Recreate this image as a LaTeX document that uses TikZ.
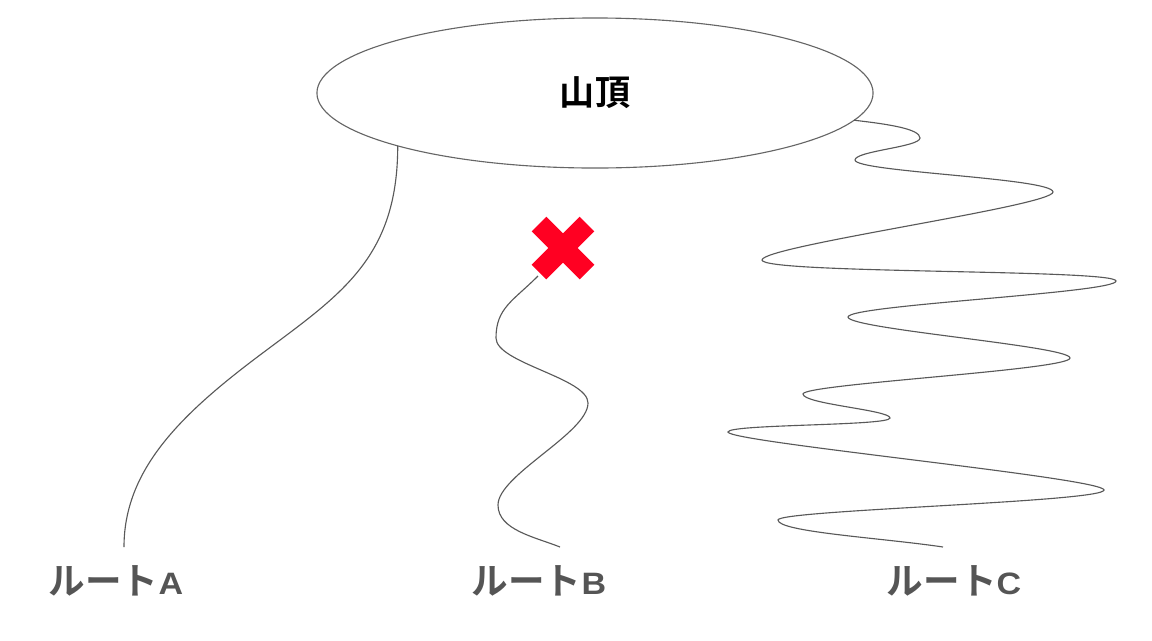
\documentclass[tikz,border=0pt]{standalone}
\usepackage{fontspec}
\newfontfamily\jpfont{Noto Sans CJK JP}[BoldFont={Noto Sans CJK JP Bold}]
\newfontfamily\latinfont{Liberation Sans}[FakeStretch=1.1]
\usetikzlibrary{shapes.geometric}
\definecolor{banred}{RGB}{255,0,34}
\definecolor{labelgray}{RGB}{85,85,85}
\newcommand{\routename}[1]{ルート{\latinfont\fontsize{22pt}{22pt}\selectfont #1}}
\tikzset{
	route/.style = {draw=black!65, line width=0.8pt},
}

\begin{document}
\begin{tikzpicture}[x=0.025cm, y=-0.025cm,
	summitbox/.style = {ellipse, draw=black!60, line width=0.8pt, minimum width=13.9cm, minimum height=3.75cm, inner sep=0, outer sep=0, font=\jpfont\bfseries\fontsize{25pt}{25pt}\selectfont},
	routelabel/.style = {text=labelgray, inner sep=0, font=\jpfont\bfseries\fontsize{26pt}{26pt}\selectfont},
	banmark/.style = {draw=banred, line width=0.52cm}]
\useasboundingbox (0,0) rectangle (1152,640);
\node[summitbox] (summit) at (595,93) {山頂};
\node[routelabel] (routeA) at (116,581) {\routename{A}};
\node[routelabel] (routeB) at (539,581) {\routename{B}};
\node[routelabel] (routeC) at (954,581) {\routename{C}};
\coordinate (aEnd) at (124,547);
\coordinate (ban) at (563,248);
\coordinate (bStart) at (538,276);
\coordinate (bEnd) at (560,547);
\coordinate (cEnd) at (943,547);
% route A
\draw[route] (summit.195) .. controls +(0,113) and +(80,-60) .. (260,355)
	.. controls +(-80,60) and +(0,-77) .. (aEnd);
% route B, blocked
\draw[route] (bStart) .. controls +(-25,25) and +(0,-30) .. (496,338)
	.. controls +(0,25) and +(0,-25) .. (588,403)
	.. controls +(0,30) and +(0,-30) .. (498,505)
	.. controls +(0,25) and +(-25,-10) .. (bEnd);
\draw[banmark] (ban) ++(-24,-24) -- ++(48,48);
\draw[banmark] (ban) ++(24,-24) -- ++(-48,48);
% route C
\draw[route] (summit.354) .. controls +(35,4) and +(0,-9) .. (920,138)
	.. controls +(0,9) and +(0,-9) .. (855,160)
	.. controls +(0,12) and +(0,-14) .. (1053,192)
	.. controls +(0,14) and +(0,-14) .. (762,260)
	.. controls +(0,14) and +(0,-12) .. (1116,281)
	.. controls +(0,12) and +(0,-12) .. (848,317)
	.. controls +(0,12) and +(0,-12) .. (1070,358)
	.. controls +(0,12) and +(0,-10) .. (803,394)
	.. controls +(0,10) and +(0,-8) .. (890,418)
	.. controls +(0,8) and +(0,-8) .. (728,432)
	.. controls +(0,10) and +(0,-12) .. (1104,490)
	.. controls +(0,12) and +(0,-10) .. (778,520)
	.. controls +(0,12) and +(-60,-9) .. (cEnd);
\end{tikzpicture}
\end{document}
